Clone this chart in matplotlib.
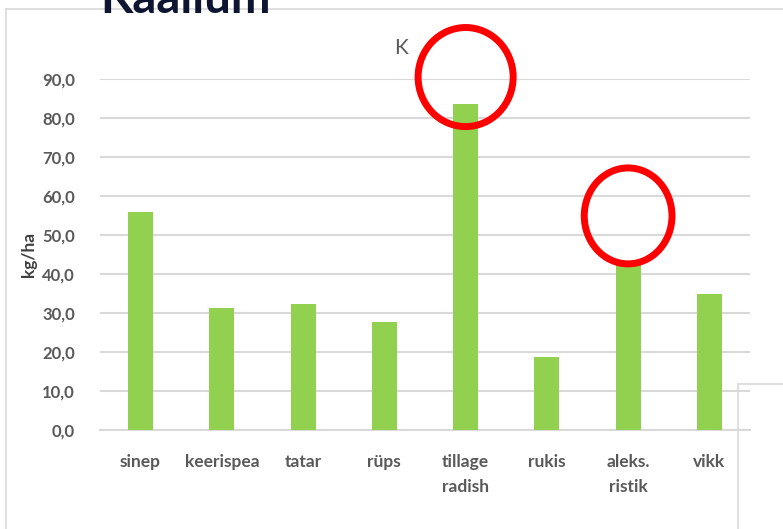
import matplotlib
matplotlib.use("Agg")
import matplotlib.pyplot as plt
from matplotlib.patches import Ellipse
from matplotlib.lines import Line2D

categories = ["sinep", "keerispea", "tatar", "rüps", "tillage\nradish", "rukis", "aleks.\nristik", "vikk"]
values = [55.8, 31.2, 32.2, 27.6, 83.5, 18.7, 43.0, 34.8]
yticks = [0, 10, 20, 30, 40, 50, 60, 70, 80, 90]
ytick_labels = ["0,0", "10,0", "20,0", "30,0", "40,0", "50,0", "60,0", "70,0", "80,0", "90,0"]

plt.rcParams['font.family'] = ['Lato', 'DejaVu Sans']

fig = plt.figure(figsize=(7.83, 5.29), dpi=100)
ax = fig.add_axes([100/783, 99/529, 650/783, 351/529])

x = list(range(len(categories)))
ax.bar(x, values, width=0.31, color="#92d050", zorder=3)
ax.set_xlim(-0.5, len(categories) - 0.5)
ax.set_ylim(0, 90)
ax.set_yticks(yticks)
ax.set_yticklabels(ytick_labels, fontsize=12, color="#595959", fontweight="bold")
ax.set_xticks(x)
ax.set_xticklabels(categories, fontsize=12.5, color="#595959", fontweight="bold", linespacing=1.75)
ax.tick_params(axis="both", length=0)
ax.tick_params(axis="x", pad=17)
ax.tick_params(axis="y", pad=18)
ax.grid(axis="y", color="#d9d9d9", linewidth=1.5, zorder=0)
for s in ["top", "right", "left"]:
    ax.spines[s].set_visible(False)
ax.spines["bottom"].set_color("#d9d9d9")
ax.spines["bottom"].set_linewidth(1.5)
ax.set_ylabel("kg/ha", fontsize=12.5, color="#404040", fontweight="bold")
ax.yaxis.set_label_coords(-0.097, 0.5)

# Titles
fig.text(185/783, 1 - 13/529, "Kaalium", fontsize=34, fontweight="bold", color="#0d1530",
         ha="center", va="baseline")
fig.text(401/783, 1 - 48/529, "K", fontsize=15, color="#595959", ha="center", va="center")

# Red circles (annotation)
ax.add_patch(Ellipse((4, 90.5), 1.17, 25.4, fill=False, edgecolor="red", linewidth=5, clip_on=False, zorder=5))
ax.add_patch(Ellipse((6, 54.9), 1.08, 24.6, fill=False, edgecolor="red", linewidth=5, clip_on=False, zorder=5))

# Chart frame lines
fc = "#d9d9d9"
fig.add_artist(Line2D([6/783, 1], [1 - 8.5/529, 1 - 8.5/529], color=fc, linewidth=1.2, transform=fig.transFigure))
fig.add_artist(Line2D([6/783, 6/783], [0, 1 - 8.5/529], color=fc, linewidth=1.2, transform=fig.transFigure))
fig.add_artist(Line2D([738/783, 1], [1 - 384/529, 1 - 384/529], color=fc, linewidth=1.2, transform=fig.transFigure))
fig.add_artist(Line2D([738/783, 738/783], [0, 1 - 384/529], color=fc, linewidth=1.2, transform=fig.transFigure))

fig.savefig("out.png", dpi=100)
